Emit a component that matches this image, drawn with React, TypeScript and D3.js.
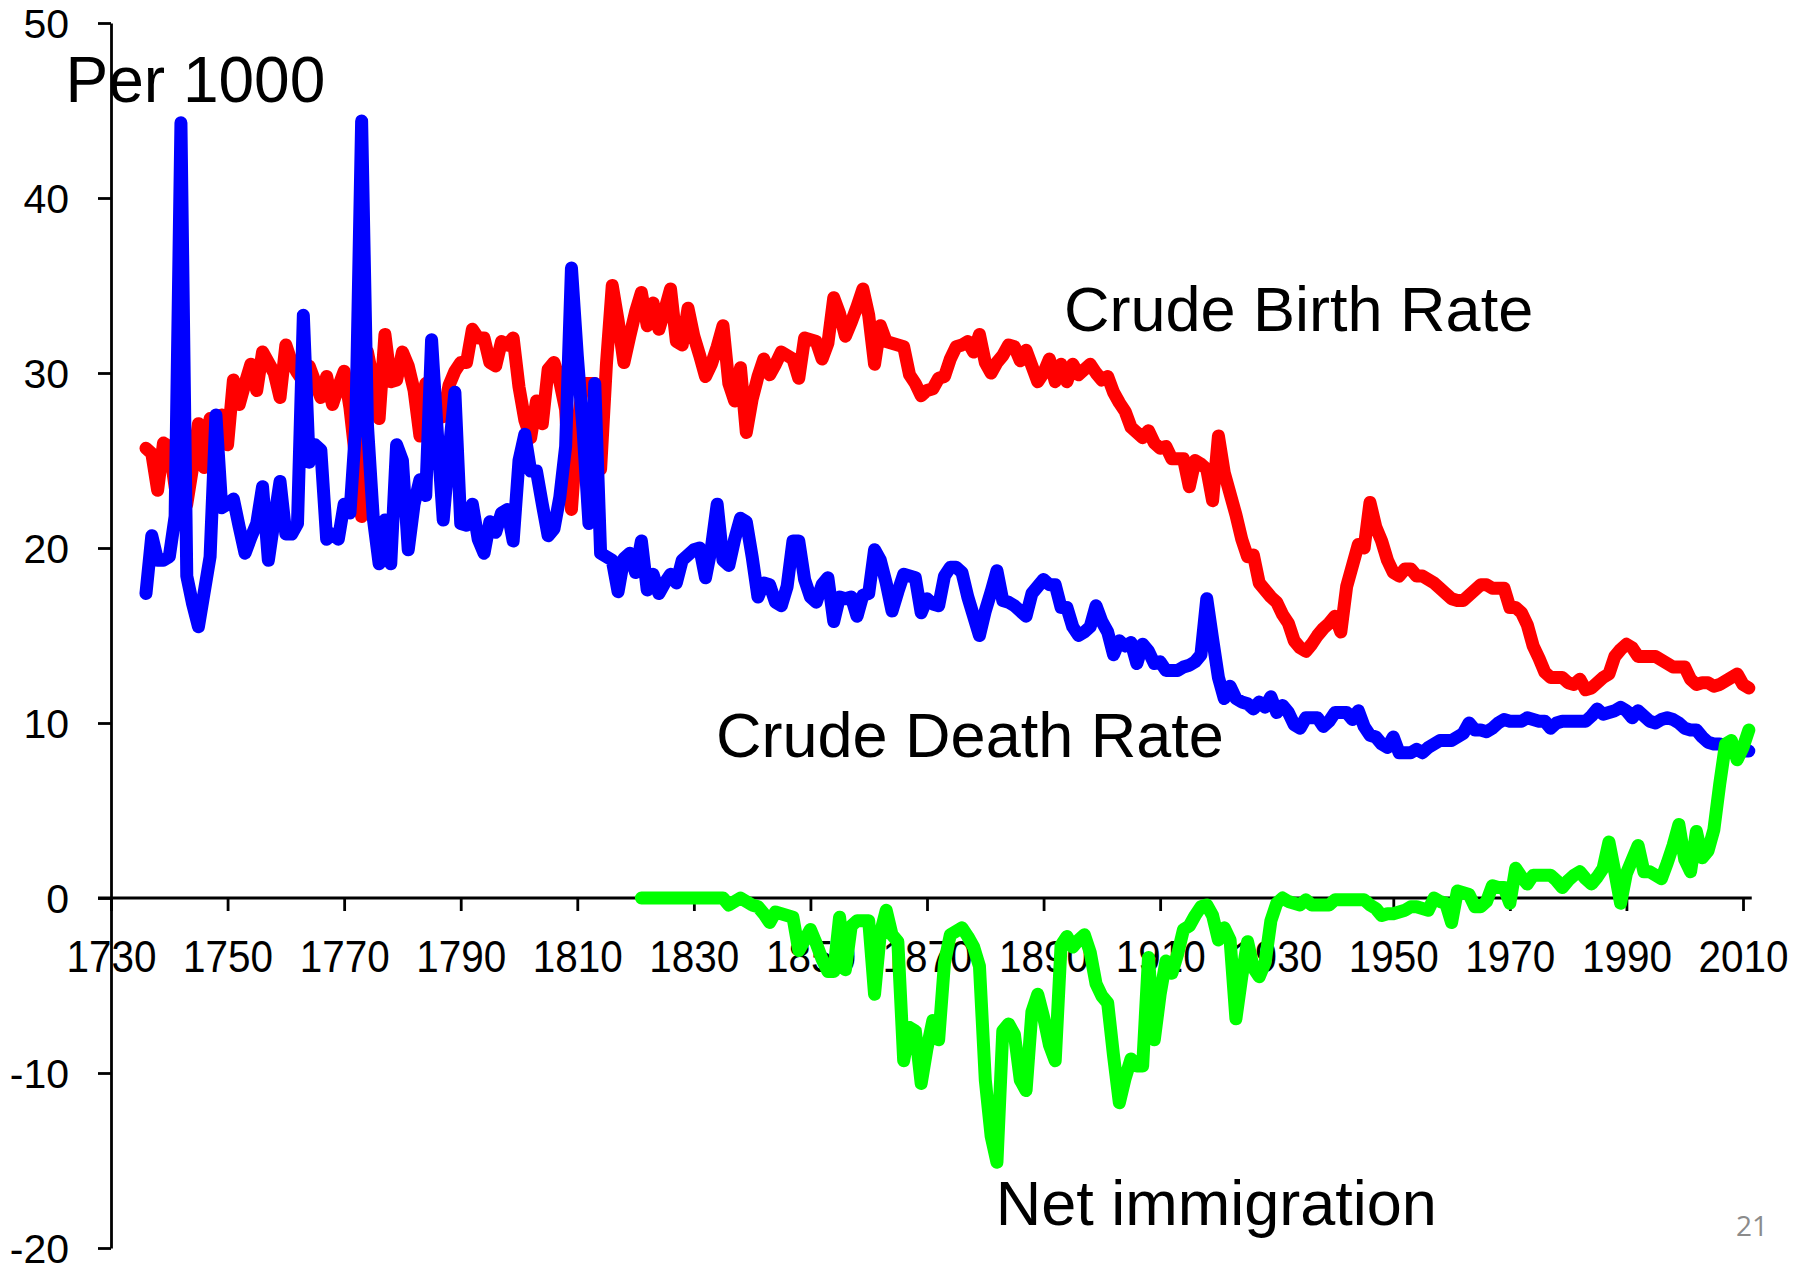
import { useEffect, useRef } from "react";
import * as d3 from "d3";

const WIDTH = 1820;
const HEIGHT = 1272;

// crude birth rate, per 1000, one value a year from 1736
const birthStart = 1736;
const birthRate = [
  25.7, 25.4, 23.3, 26.0,
  25.8, 23.5, 21.7, 22.5, 24.6, 27.1, 24.6, 27.4, 27.3, 27.6,
  25.9, 29.6, 28.2, 29.4, 30.5, 29.0, 31.2, 30.6, 30.0, 28.6,
  31.6, 30.6, 30.0, 29.5, 30.4, 29.5, 28.6, 29.8, 28.2, 29.2,
  30.1, 28.0, 25.0, 21.8, 31.2, 29.5, 27.4, 32.2, 29.5, 29.6,
  31.2, 30.4, 29.0, 26.4, 29.4, 28.5, 27.8, 27.5, 29.3, 30.1,
  30.6, 30.6, 32.5, 32.0, 32.0, 30.6, 30.4, 31.8, 31.6, 32.0,
  29.2, 27.3, 26.3, 28.4, 27.1, 30.2, 30.6, 29.5, 27.9, 22.2,
  26.9, 29.4, 29.4, 29.4, 24.5, 30.5, 35.0, 33.0, 30.6, 32.1,
  33.5, 34.6, 32.7, 34.0, 32.5, 33.6, 34.8, 31.8, 31.6, 33.7,
  32.1, 31.0, 29.8, 30.5, 31.5, 32.7, 29.4, 28.4, 30.3, 26.6,
  28.5, 29.8, 30.8, 29.9, 30.5, 31.2, 31.0, 30.8, 29.7, 32.0,
  31.9, 31.8, 30.8, 31.7, 34.3, 33.4, 32.1, 32.9, 33.8, 34.8,
  33.3, 30.5, 32.7, 31.8, 31.7, 31.6, 31.5, 29.9, 29.4, 28.7,
  29.0, 29.1, 29.7, 29.8, 30.8, 31.5, 31.6, 31.8, 31.2, 32.2,
  30.6, 30.0, 30.6, 31.0, 31.6, 31.5, 30.7, 31.3, 30.4, 29.5,
  30.0, 30.8, 29.5, 30.5, 29.5, 30.5, 29.9, 30.2, 30.5, 30.0,
  29.6, 29.8, 28.9, 28.3, 27.8, 26.9, 26.6, 26.3, 26.7, 26.0,
  25.7, 25.8, 25.1, 25.1, 25.1, 23.5, 25.0, 24.8, 24.5, 22.7,
  26.4, 24.3, 23.1, 21.9, 20.5, 19.5, 19.6, 18.0, 17.6, 17.2,
  16.9, 16.2, 15.7, 14.7, 14.3, 14.1, 14.5, 15.0, 15.4, 15.7,
  16.1, 15.2, 17.8, 19.0, 20.2, 20.0, 22.6, 21.2, 20.4, 19.3,
  18.6, 18.4, 18.8, 18.8, 18.4, 18.4, 18.2, 18.0, 17.7, 17.4,
  17.1, 17.0, 17.0, 17.3, 17.6, 17.9, 17.9, 17.7, 17.7, 17.7,
  16.6, 16.6, 16.3, 15.6, 14.4, 13.7, 12.9, 12.6, 12.6, 12.6,
  12.3, 12.2, 12.5, 11.9, 12.0, 12.3, 12.6, 12.8, 13.8, 14.2,
  14.5, 14.3, 13.8, 13.8, 13.8, 13.8, 13.6, 13.4, 13.2, 13.2,
  13.2, 12.5, 12.2, 12.3, 12.3, 12.1, 12.2, 12.4, 12.6, 12.8,
  12.2, 12.0,
];

// crude death rate, per 1000, from 1736
const deathStart = 1736;
const deathRate = [
  17.4, 20.7, 19.3, 19.3,
  19.5, 21.8, 44.3, 18.4, 16.8, 15.5, 17.5, 19.5, 27.6, 22.3,
  22.5, 22.8, 21.2, 19.7, 20.6, 21.4, 23.5, 19.3, 21.6, 23.8,
  20.8, 20.8, 21.4, 33.3, 24.9, 25.9, 25.6, 20.5, 20.8, 20.5,
  22.5, 22.0, 27.0, 44.4, 27.0, 21.7, 19.1, 21.6, 19.1, 25.9,
  25.0, 19.9, 22.5, 23.9, 23.0, 31.9, 26.5, 21.6, 25.5, 28.9,
  21.4, 21.3, 22.5, 20.5, 19.7, 21.5, 20.9, 22.0, 22.2, 20.4,
  25.0, 26.5, 24.4, 24.4, 22.5, 20.7, 21.1, 22.9, 25.8, 36.0,
  31.0, 26.7, 21.4, 29.4, 19.7, 19.5, 19.3, 17.5, 19.4, 19.7,
  18.6, 20.4, 17.6, 18.5, 17.4, 18.0, 18.5, 18.0, 19.3, 19.6,
  19.9, 20.0, 18.3, 20.0, 22.5, 19.3, 19.0, 20.5, 21.7, 21.5,
  19.5, 17.2, 18.0, 17.9, 16.9, 16.7, 17.8, 20.4, 20.4, 18.2,
  17.2, 16.9, 17.9, 18.3, 15.8, 17.2, 17.1, 17.2, 16.1, 17.3,
  17.4, 19.9, 19.3, 18.0, 16.4, 17.5, 18.5, 18.4, 18.3, 16.3,
  17.1, 16.8, 16.7, 18.4, 18.9, 18.9, 18.6, 17.2, 16.1, 15.0,
  16.4, 17.5, 18.7, 17.0, 16.9, 16.7, 16.4, 16.1, 17.4, 17.8,
  18.2, 17.9, 17.9, 16.6, 16.6, 15.5, 15.0, 15.2, 15.5, 16.7,
  15.8, 15.2, 13.9, 14.7, 14.4, 14.6, 13.4, 14.5, 14.1, 13.4,
  13.5, 13.0, 13.0, 13.0, 13.2, 13.3, 13.5, 13.9, 17.1, 14.8,
  12.6, 11.4, 12.1, 11.4, 11.2, 11.1, 10.8, 11.2, 10.9, 11.5,
  10.6, 11.0, 10.6, 9.9, 9.7, 10.3, 10.3, 10.3, 9.8, 10.1,
  10.6, 10.6, 10.6, 10.2, 10.7, 9.8, 9.3, 9.2, 8.8, 8.6,
  9.2, 8.3, 8.3, 8.3, 8.5, 8.3, 8.6, 8.8, 9.0, 9.0,
  9.0, 9.2, 9.4, 10.0, 9.6, 9.6, 9.5, 9.7, 10.0, 10.2,
  10.1, 10.1, 10.1, 10.3, 10.2, 10.1, 10.1, 9.7, 10.0, 10.1,
  10.1, 10.1, 10.1, 10.1, 10.4, 10.8, 10.5, 10.6, 10.7, 10.9,
  10.7, 10.3, 10.7, 10.4, 10.1, 10.0, 10.2, 10.3, 10.2, 10.0,
  9.7, 9.6, 9.6, 9.2, 8.9, 8.8, 8.8, 8.7, 8.5, 8.4,
  8.4, 8.4,
];

// net immigration, per 1000, from 1821
const migrationStart = 1821;
const netMigration = [
  0, 0, 0, 0, 0, 0, 0, 0, 0,
  0, 0, 0, 0, 0, 0, -0.4, -0.2, 0.0, -0.2,
  -0.4, -0.5, -0.9, -1.4, -0.8, -0.9, -1.0, -1.1, -3.0, -2.4,
  -1.8, -2.6, -3.5, -4.2, -4.2, -1.1, -4.1, -1.6, -1.3, -1.3,
  -1.3, -5.5, -2.0, -0.7, -2.1, -2.5, -9.3, -7.4, -7.6, -10.6,
  -8.6, -7.0, -8.1, -3.7, -2.1, -1.9, -1.7, -2.2, -2.8, -3.9,
  -10.4, -13.6, -15.1, -7.6, -7.2, -7.8, -10.4, -11.0, -6.5, -5.5,
  -6.8, -8.4, -9.3, -2.7, -2.2, -2.8, -2.4, -2.1, -3.1, -4.9,
  -5.6, -6.0, -9.0, -11.7, -10.3, -9.2, -9.6, -9.6, -3.4, -8.1,
  -5.5, -3.6, -4.3, -3.2, -1.8, -1.6, -1.0, -0.5, -0.4, -1.0,
  -2.4, -1.7, -2.4, -6.9, -4.5, -2.5, -4.0, -4.5, -3.7, -1.3,
  -0.3, 0.0, -0.2, -0.3, -0.4, -0.1, -0.4, -0.4, -0.4, -0.4,
  -0.1, -0.1, -0.1, -0.1, -0.1, -0.1, -0.4, -0.6, -1.0, -0.9,
  -0.9, -0.8, -0.7, -0.5, -0.5, -0.6, -0.7, 0.0, -0.2, -0.3,
  -1.4, 0.4, 0.3, 0.2, -0.5, -0.5, -0.2, 0.7, 0.6, 0.6,
  -0.3, 1.7, 1.2, 0.8, 1.3, 1.3, 1.3, 1.3, 1.0, 0.6,
  1.0, 1.3, 1.5, 1.1, 0.8, 1.2, 1.7, 3.2, 1.5, -0.3,
  1.4, 2.2, 3.0, 1.5, 1.5, 1.3, 1.1, 2.0, 3.0, 4.2,
  2.2, 1.5, 3.8, 2.3, 2.7, 3.9, 6.5, 8.8, 9.0, 7.9,
  8.6, 9.6,
];

const xTicks = [1730, 1750, 1770, 1790, 1810, 1830, 1850, 1870, 1890, 1910, 1930, 1950, 1970, 1990, 2010];
const yTicks = [-20, -10, 0, 10, 20, 30, 40, 50];

const FONT = "'Liberation Sans', Arial, sans-serif";
const X_TICK_FONT = 44;
const X_TICK_SQUEEZE = 0.92; // year labels are a little narrow in the original
const Y_TICK_FONT = 41;

const App = () => {
  const ref = useRef(null);

  useEffect(() => {
    const svg = d3.select(ref.current);
    svg.selectAll("*").remove();

    const x = d3.scaleLinear().domain([1730, 2010]).range([111, 1743]);
    const y = d3.scaleLinear().domain([-20, 50]).range([1248, 23]);

    // x axis: line along zero, a bit past both ends
    svg.append("line")
      .attr("x1", 98)
      .attr("x2", x(2011.5))
      .attr("y1", y(0))
      .attr("y2", y(0))
      .attr("stroke", "#000")
      .attr("stroke-width", 2.8);

    const xAxis = svg.append("g")
      .attr("transform", `translate(0,${y(0)})`)
      .call(
        d3.axisBottom(x)
          .tickValues(xTicks)
          .tickSize(13)
          .tickSizeOuter(0)
          .tickPadding(30)
          .tickFormat(d => String(d))
      );
    xAxis.select(".domain").remove();
    xAxis.selectAll("line").attr("stroke", "#000").attr("stroke-width", 2.8);
    xAxis.selectAll("text")
      .attr("fill", "#000")
      .attr("font-size", X_TICK_FONT)
      .attr("font-family", FONT)
      .attr("transform", `scale(${X_TICK_SQUEEZE},1)`);

    const yAxis = svg.append("g")
      .attr("transform", `translate(${x(1730)},0)`)
      .call(
        d3.axisLeft(y)
          .tickValues(yTicks)
          .tickSize(13)
          .tickSizeOuter(0)
          .tickPadding(29)
          .tickFormat(d => String(d))
      );
    yAxis.select(".domain").attr("stroke", "#000").attr("stroke-width", 2.8);
    yAxis.selectAll("line").attr("stroke", "#000").attr("stroke-width", 2.8);
    yAxis.selectAll("text")
      .attr("fill", "#000")
      .attr("font-size", Y_TICK_FONT)
      .attr("font-family", FONT)
      .attr("dy", "0.356em");

    const series = [
      { start: birthStart, values: birthRate, color: "#ff0000" },
      { start: deathStart, values: deathRate, color: "#0000ff" },
      { start: migrationStart, values: netMigration, color: "#00ff00" },
    ];

    const line = d3.line()
      .x(d => x(d[0]))
      .y(d => y(d[1]));

    series.forEach(s => {
      const pts = s.values.map((v, i) => [s.start + i, v]);
      svg.append("path")
        .attr("d", line(pts))
        .attr("fill", "none")
        .attr("stroke", s.color)
        .attr("stroke-width", 13)
        .attr("stroke-linejoin", "round")
        .attr("stroke-linecap", "round");
    });

    // text labels
    const labels = [
      { text: "Per 1000", year: 1722.2, value: 45.5, size: 64 },
      { text: "Crude Birth Rate", year: 1893.5, value: 32.4, size: 63 },
      { text: "Crude Death Rate", year: 1833.8, value: 8.05, size: 63 },
      { text: "Net immigration", year: 1881.8, value: -18.7, size: 63 },
    ];
    labels.forEach(l => {
      svg.append("text")
        .attr("x", x(l.year))
        .attr("y", y(l.value))
        .attr("font-family", FONT)
        .attr("font-size", l.size)
        .attr("fill", "#000")
        .text(l.text);
    });

    // slide number
    svg.append("text")
      .attr("x", 1736)
      .attr("y", 1236)
      .attr("font-family", "'Open Sans', sans-serif")
      .attr("font-size", 28)
      .attr("fill", "#8b8b8b")
      .text("21");
  }, []);

  return (
    <svg
      ref={ref}
      width={WIDTH}
      height={HEIGHT}
      style={{ position: "absolute", left: 0, top: 0, display: "block", background: "#fff" }}
    />
  );
};

export default App;
